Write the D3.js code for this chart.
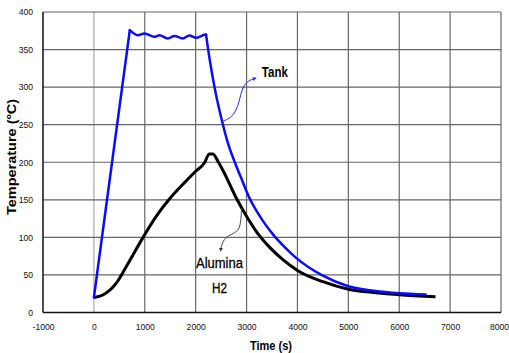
<!DOCTYPE html>
<html>
<head>
<meta charset="utf-8">
<script src="https://cdn.jsdelivr.net/npm/d3@7"></script>
<style>
  body { margin: 0; background: #fff; }
  svg { display: block; }
  .tick text { font-family: "Liberation Sans", Arial, sans-serif; font-size: 8.6px; fill: #111; }
</style>
</head>
<body>
<div id="chart"></div>
<script>
// tank temperature (blue)
var tankTime = [0, 706, 863, 994, 1190, 1288, 1451, 1582, 1745, 1876, 2007, 2170, 2203, 2275, 2373, 2536, 2650, 2780, 2900, 3053, 3300, 3543, 3750, 3968, 4500, 5000, 5500, 6000, 6518];
var tankTemp = [20, 375.8, 369.1, 371.3, 366.9, 369.1, 364.7, 368.2, 364.7, 368.7, 365.6, 369.6, 370, 337, 299, 250, 222, 198, 178, 153, 124, 102, 87, 73, 49, 35, 29, 25.6, 24];
// corners of the tank curve (heating stops / cooling starts)
var tankBreaks = [706, 2203];

// alumina H2 temperature (black)
var aluTime = [0, 176, 440, 635, 975, 1224, 1484, 1812, 2000, 2171, 2269, 2340, 2440, 2560, 2800, 3000, 3200, 3450, 3720, 4000, 4500, 5000, 5500, 6000, 6713];
var aluTemp = [20, 23.3, 39, 61, 101, 128, 151, 175, 188, 199, 211, 211, 201, 186, 152, 128, 107, 87, 70, 56, 41, 31, 26.5, 23.7, 21];

var xTicks = [-1000, 0, 1000, 2000, 3000, 4000, 5000, 6000, 7000, 8000];
var yTicks = [0, 50, 100, 150, 200, 250, 300, 350, 400];

// annotation arrows (data units)
var tankArrow = [[2511, 254], [2707, 259], [2837, 274], [2904, 297], [3002, 308], [3185, 312]];
var aluArrow = [[2900, 139], [2895, 128], [2870, 112], [2775, 106], [2640, 102], [2560, 98], [2500, 88], [2490, 82]];

var W = 509, H = 353;
var margin = { top: 12, right: 8, bottom: 40.5, left: 43 };

var svg = d3.select("#chart").append("svg")
  .attr("width", W)
  .attr("height", H);

var x = d3.scaleLinear().domain([-1000, 8000]).range([margin.left, W - margin.right]);
var y = d3.scaleLinear().domain([0, 400]).range([H - margin.bottom, margin.top]);

var defs = svg.append("defs");
function marker(id, color) {
  defs.append("marker")
    .attr("id", id)
    .attr("viewBox", "0 0 10 10")
    .attr("refX", 8).attr("refY", 5)
    .attr("markerWidth", 4).attr("markerHeight", 4)
    .attr("orient", "auto")
    .append("path")
    .attr("d", "M0,0L10,5L0,10z")
    .attr("fill", color);
}
marker("arrBlue", "#2a2af0");
marker("arrBlack", "#333");

// grid
svg.append("g").selectAll("line")
  .data(xTicks.slice(1))
  .enter().append("line")
  .attr("x1", function (d) { return x(d); })
  .attr("x2", function (d) { return x(d); })
  .attr("y1", y(0)).attr("y2", y(400))
  .attr("stroke", function (d) { return d === 0 ? "#aaa" : "#666"; })
  .attr("stroke-width", 1.2);

svg.append("g").selectAll("line")
  .data(yTicks.slice(1))
  .enter().append("line")
  .attr("x1", x(-1000)).attr("x2", x(8000))
  .attr("y1", function (d) { return y(d); })
  .attr("y2", function (d) { return y(d); })
  .attr("stroke", "#666")
  .attr("stroke-width", 1.2);

// axis lines
svg.append("line")
  .attr("x1", x(-1000)).attr("x2", x(-1000))
  .attr("y1", y(0)).attr("y2", y(400))
  .attr("stroke", "#111").attr("stroke-width", 1.5);
svg.append("line")
  .attr("x1", x(-1000)).attr("x2", x(8000))
  .attr("y1", y(0)).attr("y2", y(0))
  .attr("stroke", "#111").attr("stroke-width", 1.5);

// tick labels
svg.append("g")
  .attr("transform", "translate(0," + y(0) + ")")
  .call(d3.axisBottom(x).tickValues(xTicks).tickSize(0).tickPadding(11)
    .tickFormat(function (d) { return String(d); }))
  .call(function (g) {
    g.select(".domain").remove();
    g.selectAll(".tick text").filter(function (d) { return d === 8000; }).attr("dx", -2);
  });

svg.append("g")
  .attr("transform", "translate(" + x(-1000) + ",0)")
  .call(d3.axisLeft(y).tickValues(yTicks).tickSize(0).tickPadding(10)
    .tickFormat(function (d) { return String(d); }))
  .call(function (g) { g.select(".domain").remove(); });

// axis titles
svg.append("text")
  .attr("x", 271).attr("y", 350)
  .attr("text-anchor", "middle")
  .attr("textLength", 42).attr("lengthAdjust", "spacingAndGlyphs")
  .style("font-family", "'Liberation Sans', Arial, sans-serif")
  .style("font-weight", "bold")
  .style("font-size", "13px")
  .text("Time (s)");

svg.append("text")
  .attr("transform", "translate(16,157) rotate(-90)")
  .attr("text-anchor", "middle")
  .attr("textLength", 116).attr("lengthAdjust", "spacingAndGlyphs")
  .style("font-family", "'Liberation Sans', Arial, sans-serif")
  .style("font-weight", "bold")
  .style("font-size", "13px")
  .text("Temperature (ºC)");

// series
var line = d3.line()
  .x(function (d) { return x(d[0]); })
  .y(function (d) { return y(d[1]); })
  .curve(d3.curveMonotoneX);

var aluPts = aluTime.map(function (t, i) { return [t, aluTemp[i]]; });
svg.append("path")
  .datum(aluPts)
  .attr("d", line)
  .attr("fill", "none")
  .attr("stroke", "#000")
  .attr("stroke-width", 3)
  .attr("stroke-linejoin", "round");

// tank drawn piecewise so the corners stay sharp
var tankPts = tankTime.map(function (t, i) { return [t, tankTemp[i]]; });
var cuts = [0].concat(tankBreaks.map(function (b) { return tankTime.indexOf(b); }), [tankTime.length - 1]);
var tankPieces = d3.pairs(cuts).map(function (p) { return tankPts.slice(p[0], p[1] + 1); });

svg.append("g").selectAll("path")
  .data(tankPieces)
  .enter().append("path")
  .attr("d", line)
  .attr("fill", "none")
  .attr("stroke", "#0a0aff")
  .attr("stroke-width", 2.5)
  .attr("stroke-linecap", "round");

// annotations
var arrowLine = d3.line()
  .x(function (d) { return x(d[0]); })
  .y(function (d) { return y(d[1]); })
  .curve(d3.curveBasis);

svg.append("path")
  .datum(tankArrow)
  .attr("d", arrowLine)
  .attr("fill", "none")
  .attr("stroke", "#2a2af0")
  .attr("stroke-width", 1)
  .attr("marker-end", "url(#arrBlue)");

svg.append("path")
  .datum(aluArrow)
  .attr("d", arrowLine)
  .attr("fill", "none")
  .attr("stroke", "#444")
  .attr("stroke-width", 1)
  .attr("marker-end", "url(#arrBlack)");

var labelFont = "'Liberation Sans', Arial, sans-serif";

svg.append("text")
  .attr("x", x(3300)).attr("y", y(314))
  .attr("textLength", 26).attr("lengthAdjust", "spacingAndGlyphs")
  .style("font-family", labelFont)
  .style("font-weight", "bold")
  .style("font-size", "14px")
  .text("Tank");

svg.append("text")
  .attr("x", x(2468)).attr("y", y(59))
  .attr("text-anchor", "middle")
  .attr("textLength", 47).attr("lengthAdjust", "spacingAndGlyphs")
  .style("font-family", labelFont)
  .style("font-size", "15px")
  .style("stroke", "#000").style("stroke-width", 0.3)
  .text("Alumina");

svg.append("text")
  .attr("x", x(2468)).attr("y", y(26))
  .attr("text-anchor", "middle")
  .attr("textLength", 15).attr("lengthAdjust", "spacingAndGlyphs")
  .style("font-family", labelFont)
  .style("font-size", "15px")
  .style("stroke", "#000").style("stroke-width", 0.3)
  .text("H2");
</script>
</body>
</html>
